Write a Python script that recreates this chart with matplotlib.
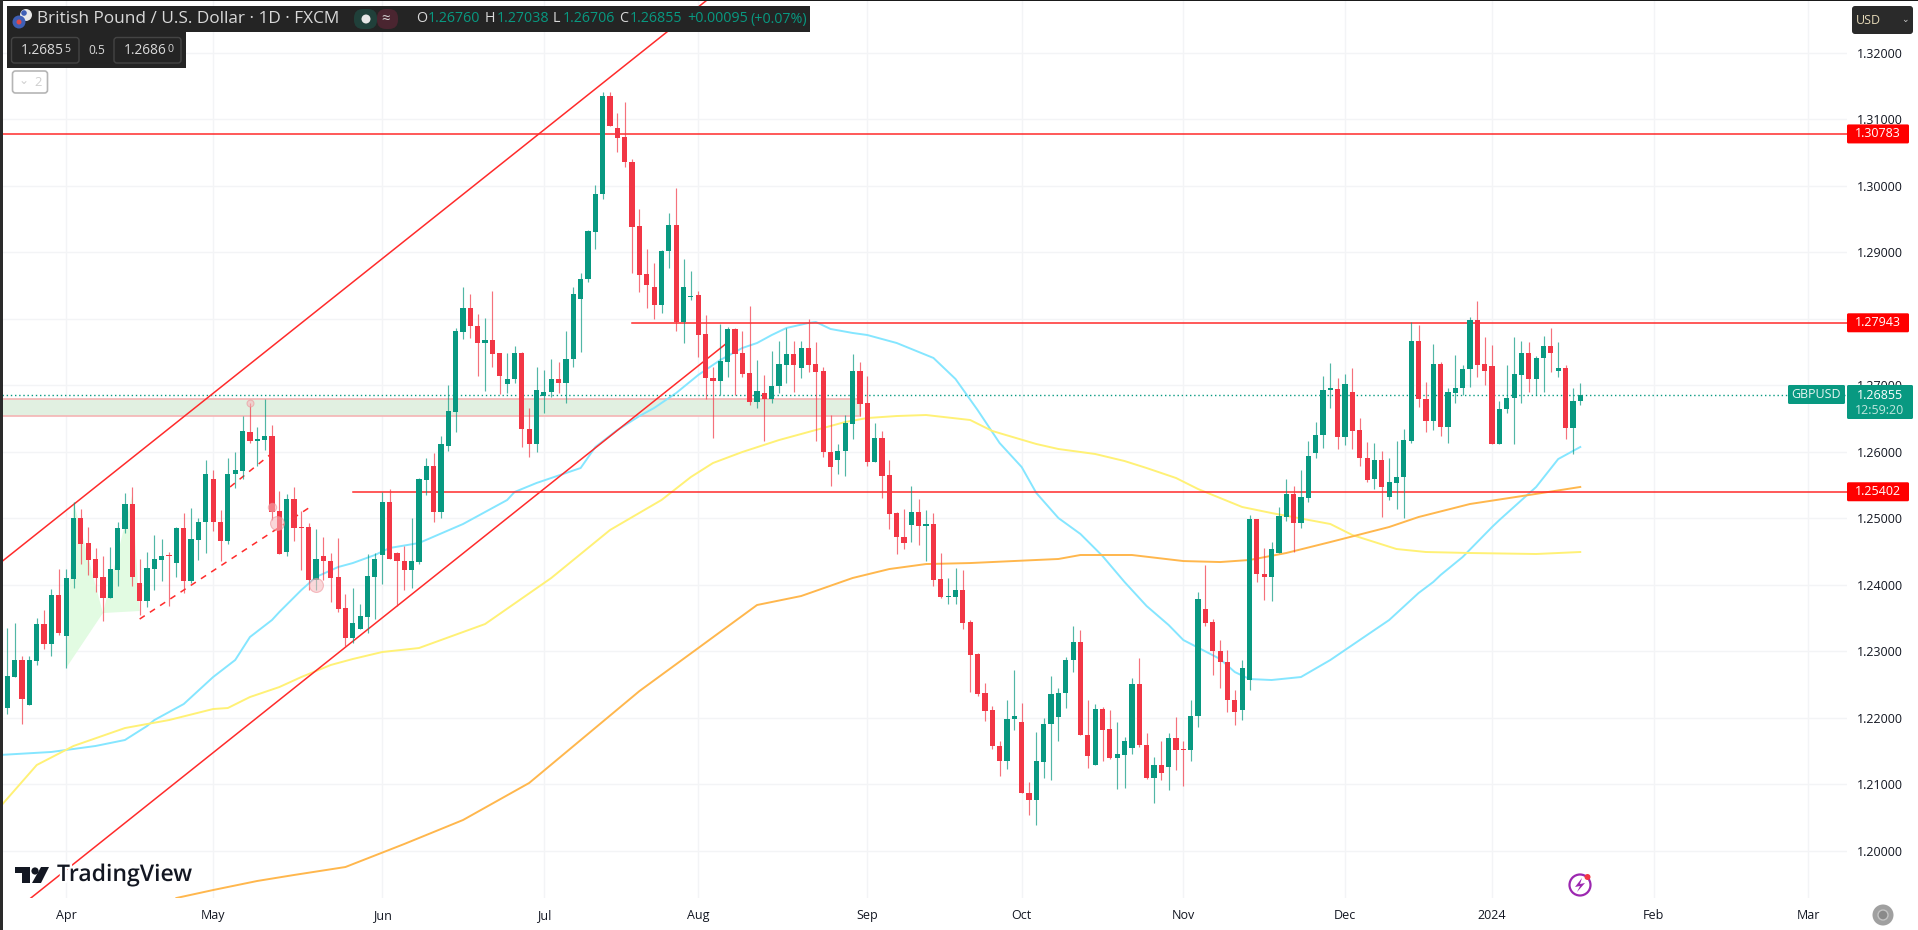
import matplotlib
matplotlib.use("Agg")
import matplotlib.pyplot as plt
import matplotlib.patheffects as pe
from matplotlib.patches import Rectangle, FancyBboxPatch, Circle, Polygon

# GBPUSD daily candles
opens = [
    1.22781, 1.22150, 1.22616, 1.22872, 1.22195, 1.22857, 1.23413, 1.23112, 1.23849, 1.23233,
    1.24090, 1.25007, 1.24631, 1.24391, 1.24120, 1.23804, 1.24225, 1.24842, 1.25218, 1.24030,
    1.23759, 1.24240, 1.24376, 1.24450, 1.24330, 1.24857, 1.24060, 1.24676, 1.24947, 1.25594,
    1.24947, 1.24661, 1.25668, 1.25714, 1.26301, 1.26165, 1.26180, 1.26240, 1.25112, 1.24496,
    1.25293, 1.24872, 1.24872, 1.24075, 1.24436, 1.24360, 1.24120, 1.23654, 1.23203, 1.23338,
    1.23518, 1.24120, 1.24451, 1.25248, 1.24481, 1.24360, 1.24225, 1.24345, 1.25579, 1.25789,
    1.25097, 1.26090, 1.26602, 1.27805, 1.28165, 1.27895, 1.27639, 1.27684, 1.27489, 1.27022,
    1.27098, 1.27489, 1.26346, 1.26120, 1.26842, 1.26902, 1.27098, 1.27038, 1.27399, 1.28301,
    1.28601, 1.29308, 1.29880, 1.31353, 1.30872, 1.30737, 1.30361, 1.29398, 1.28677, 1.28481,
    1.28210, 1.29022, 1.29413, 1.27955, 1.28331, 1.28361, 1.27774, 1.27113, 1.27068, 1.27353,
    1.27850, 1.27489, 1.27188, 1.26752, 1.26887, 1.26797, 1.26992, 1.27308, 1.27473, 1.27263,
    1.27564, 1.27323, 1.27218, 1.26000, 1.25879, 1.26015, 1.26421, 1.27218, 1.26737, 1.25849,
    1.26210, 1.25654, 1.25083, 1.24721, 1.24902, 1.25097, 1.24887, 1.24917, 1.24090, 1.23819,
    1.23819, 1.23924, 1.23443, 1.22962, 1.22375, 1.22120, 1.21579, 1.21353, 1.21984, 1.21939,
    1.20872, 1.20767, 1.21338, 1.21909, 1.22014, 1.22375, 1.22872, 1.23142, 1.21744, 1.21293,
    1.22135, 1.21835, 1.21398, 1.21444, 1.21549, 1.22511, 1.21594, 1.21098, 1.21293, 1.21263,
    1.21699, 1.21534, 1.21519, 1.22029, 1.23639, 1.23443, 1.23007, 1.22842, 1.22270, 1.22120,
    1.22571, 1.24992, 1.24165, 1.24120, 1.24481, 1.25022, 1.25368, 1.24932, 1.25308, 1.25985,
    1.26255, 1.26932, 1.26947, 1.26225, 1.26902, 1.26331, 1.25909, 1.25594, 1.25879, 1.25323,
    1.25534, 1.25623, 1.26165, 1.27669, 1.26797, 1.26466, 1.27323, 1.26376, 1.26887, 1.26962,
    1.27248, 1.27985, 1.27323, 1.27293, 1.26120, 1.26647, 1.26812, 1.27158, 1.27489, 1.27098,
    1.27414, 1.27594, 1.27218, 1.27263, 1.26361, 1.26760,
]
highs = [
    1.23022, 1.23353, 1.23428, 1.22932, 1.22932, 1.23503, 1.23624, 1.23939, 1.24240, 1.24240,
    1.25248, 1.25143, 1.24872, 1.24556, 1.24436, 1.24571, 1.24947, 1.25383, 1.25474, 1.24391,
    1.24496, 1.24751, 1.24691, 1.24496, 1.24872, 1.25083, 1.25158, 1.25007, 1.25878, 1.25729,
    1.25128, 1.25909, 1.26000, 1.26541, 1.26737, 1.26376, 1.26797, 1.26406, 1.25413, 1.25368,
    1.25474, 1.25112, 1.24932, 1.24842, 1.24721, 1.24481, 1.24706, 1.23864, 1.23954, 1.23714,
    1.24466, 1.24481, 1.25398, 1.25443, 1.24496, 1.24586, 1.25007, 1.25609, 1.25909, 1.25985,
    1.26240, 1.27008, 1.27865, 1.28481, 1.28376, 1.28075, 1.28015, 1.28421, 1.27489, 1.27489,
    1.27594, 1.27504, 1.26662, 1.27278, 1.27233, 1.27399, 1.27353, 1.27820, 1.28481, 1.28692,
    1.29338, 1.30015, 1.31413, 1.31413, 1.31097, 1.31263, 1.30406, 1.29654, 1.29052, 1.28842,
    1.29037, 1.29594, 1.29970, 1.28902, 1.28722, 1.28421, 1.28060, 1.27278, 1.27925, 1.27880,
    1.27865, 1.27820, 1.28195, 1.27384, 1.27158, 1.27519, 1.27669, 1.27865, 1.27669, 1.27669,
    1.28000, 1.27654, 1.27278, 1.26556, 1.26120, 1.26556, 1.27473, 1.27353, 1.27143, 1.26436,
    1.26316, 1.25879, 1.25097, 1.25143, 1.25489, 1.25293, 1.25128, 1.25083, 1.24481, 1.24105,
    1.24255, 1.24225, 1.23473, 1.22977, 1.22526, 1.22180, 1.21654, 1.22270, 1.22721, 1.22225,
    1.21038, 1.21790, 1.21999, 1.22631, 1.22450, 1.22917, 1.23383, 1.23323, 1.22270, 1.22210,
    1.22165, 1.22120, 1.21939, 1.21714, 1.22601, 1.22902, 1.21775, 1.21414, 1.21654, 1.21775,
    1.22014, 1.21654, 1.22270, 1.23894, 1.24300, 1.23488, 1.23173, 1.23022, 1.22420, 1.22872,
    1.25052, 1.24992, 1.24556, 1.24646, 1.25173, 1.25594, 1.25489, 1.25729, 1.26165, 1.26451,
    1.27143, 1.27338, 1.27113, 1.27173, 1.27263, 1.26511, 1.26150, 1.26135, 1.26015, 1.25909,
    1.26165, 1.26346, 1.27955, 1.27910, 1.27053, 1.27624, 1.27353, 1.26962, 1.27459, 1.27308,
    1.28030, 1.28271, 1.27729, 1.27609, 1.26767, 1.27308, 1.27729, 1.27669, 1.27654, 1.27444,
    1.27745, 1.27865, 1.27654, 1.27308, 1.26962, 1.27038,
]
lows = [
    1.21999, 1.22059, 1.22616, 1.21909, 1.22195, 1.22797, 1.23037, 1.22932, 1.23248, 1.22752,
    1.23954, 1.24315, 1.24150, 1.23894, 1.23458, 1.23804, 1.23985, 1.24782, 1.23985, 1.23548,
    1.23669, 1.23924, 1.24060, 1.23684, 1.24120, 1.23879, 1.24030, 1.24376, 1.24481, 1.24812,
    1.24360, 1.24616, 1.25458, 1.25594, 1.26135, 1.25789, 1.26030, 1.24977, 1.24466, 1.24436,
    1.24661, 1.24225, 1.23924, 1.23924, 1.24075, 1.23744, 1.23593, 1.23082, 1.23127, 1.23338,
    1.23278, 1.23488, 1.24015, 1.24391, 1.23684, 1.23924, 1.23954, 1.24315, 1.25353, 1.24947,
    1.25007, 1.26015, 1.26301, 1.27699, 1.27714, 1.27143, 1.26917, 1.27278, 1.26872, 1.26887,
    1.27038, 1.26075, 1.25925, 1.26000, 1.26586, 1.26827, 1.26887, 1.26737, 1.27278, 1.27504,
    1.28556, 1.29052, 1.29804, 1.30902, 1.30511, 1.30286, 1.28692, 1.28406, 1.28165, 1.28000,
    1.28090, 1.28767, 1.27820, 1.27639, 1.28286, 1.27429, 1.26797, 1.26210, 1.26857, 1.27128,
    1.26857, 1.27128, 1.26707, 1.26662, 1.26165, 1.26737, 1.26887, 1.27038, 1.26902, 1.27113,
    1.27203, 1.26165, 1.25925, 1.25489, 1.25669, 1.25638, 1.26195, 1.26541, 1.25789, 1.25849,
    1.25308, 1.24842, 1.24466, 1.24541, 1.24646, 1.24601, 1.24360, 1.23985, 1.23804, 1.23714,
    1.23714, 1.23338, 1.22390, 1.22330, 1.21954, 1.21534, 1.21128, 1.21233, 1.21820, 1.20872,
    1.20541, 1.20391, 1.21098, 1.21068, 1.21654, 1.22150, 1.22691, 1.21744, 1.21248, 1.21293,
    1.21353, 1.21383, 1.20933, 1.20948, 1.21459, 1.21564, 1.21083, 1.20722, 1.21068, 1.20918,
    1.21218, 1.20978, 1.21353, 1.21864, 1.23383, 1.22646, 1.22450, 1.22090, 1.21894, 1.21969,
    1.22420, 1.24045, 1.23774, 1.23759, 1.24481, 1.24962, 1.24496, 1.24857, 1.25248, 1.25909,
    1.26060, 1.26662, 1.26045, 1.26105, 1.26045, 1.25789, 1.25549, 1.25443, 1.25022, 1.25278,
    1.25143, 1.25007, 1.26135, 1.26677, 1.26301, 1.26331, 1.26240, 1.26135, 1.26737, 1.26857,
    1.26977, 1.27128, 1.27008, 1.26120, 1.26120, 1.26586, 1.26120, 1.26737, 1.26902, 1.26857,
    1.26902, 1.27203, 1.27128, 1.26195, 1.25970, 1.26706,
]
closes = [
    1.22150, 1.22631, 1.22872, 1.22285, 1.22872, 1.23413, 1.23112, 1.23849, 1.23278, 1.24105,
    1.25007, 1.24616, 1.24376, 1.24105, 1.23804, 1.24240, 1.24857, 1.25218, 1.24120, 1.23759,
    1.24255, 1.24391, 1.24436, 1.24436, 1.24857, 1.24060, 1.24691, 1.24947, 1.25668, 1.24947,
    1.24661, 1.25668, 1.25729, 1.26316, 1.26165, 1.26195, 1.26240, 1.25097, 1.24466, 1.25293,
    1.24857, 1.24857, 1.24075, 1.24391, 1.24360, 1.24105, 1.23639, 1.23203, 1.23428, 1.23533,
    1.24135, 1.24391, 1.25248, 1.24391, 1.24360, 1.24225, 1.24360, 1.25594, 1.25789, 1.25097,
    1.26120, 1.26617, 1.27820, 1.28165, 1.27895, 1.27639, 1.27684, 1.27473, 1.27143, 1.27098,
    1.27489, 1.26346, 1.26120, 1.26932, 1.26902, 1.27098, 1.27038, 1.27399, 1.28376, 1.28601,
    1.29323, 1.29880, 1.31353, 1.30902, 1.30722, 1.30361, 1.29383, 1.28662, 1.28511, 1.28210,
    1.29022, 1.29413, 1.27955, 1.28481, 1.28346, 1.27759, 1.27113, 1.27068, 1.27368, 1.27850,
    1.27473, 1.27173, 1.26752, 1.26917, 1.26797, 1.26992, 1.27323, 1.27473, 1.27308, 1.27564,
    1.27308, 1.27203, 1.26000, 1.25774, 1.26015, 1.26436, 1.27218, 1.26722, 1.25849, 1.26210,
    1.25638, 1.25067, 1.24721, 1.24631, 1.25097, 1.24887, 1.24917, 1.24075, 1.23819, 1.23834,
    1.23924, 1.23428, 1.22947, 1.22360, 1.22105, 1.21579, 1.21353, 1.21984, 1.22029, 1.20872,
    1.20767, 1.21353, 1.21909, 1.22360, 1.22375, 1.22872, 1.23142, 1.21744, 1.21429, 1.22135,
    1.21820, 1.21398, 1.21459, 1.21654, 1.22511, 1.21594, 1.21098, 1.21293, 1.21173, 1.21699,
    1.21519, 1.21519, 1.22029, 1.23789, 1.23428, 1.23007, 1.22842, 1.22270, 1.22090, 1.22752,
    1.24992, 1.24165, 1.24120, 1.24541, 1.25037, 1.25368, 1.24932, 1.25323, 1.25939, 1.26255,
    1.26932, 1.26962, 1.26225, 1.27022, 1.26316, 1.25909, 1.25579, 1.25879, 1.25474, 1.25549,
    1.25623, 1.26180, 1.27669, 1.26797, 1.26466, 1.27323, 1.26376, 1.26902, 1.26962, 1.27248,
    1.27985, 1.27308, 1.27218, 1.26120, 1.26647, 1.26812, 1.27173, 1.27489, 1.27098, 1.27414,
    1.27594, 1.27489, 1.27263, 1.26361, 1.26767, 1.26855,
]

# moving averages as (bar index, price)
ma50_idx = [0, 7, 13, 17, 20, 21, 25, 29, 32, 34, 37, 38, 41, 43, 46, 48, 51, 53, 57, 63, 69, 70, 73, 77, 79, 81, 84, 87, 89, 92,
            95, 98, 101, 103, 105, 107, 110, 111, 113, 116, 118, 122, 124, 127, 130, 133, 136, 139, 141, 144, 147, 150, 153, 156, 159,
            161, 166, 168, 170, 173, 177, 181, 186, 189, 193, 195, 196, 199, 203, 204, 209, 212, 215]
ma50_val = [1.21444, 1.21489, 1.21579, 1.21669, 1.21879, 1.21969, 1.22210, 1.22616, 1.22872, 1.23217, 1.23473, 1.23593, 1.23924,
            1.24120, 1.24270, 1.24330, 1.24451, 1.24556, 1.24631, 1.24917, 1.25278, 1.25398, 1.25534, 1.25684, 1.25759, 1.26075,
            1.26331, 1.26541, 1.26662, 1.26887, 1.27158, 1.27384, 1.27564, 1.27639, 1.27759, 1.27865, 1.27940, 1.27955, 1.27850,
            1.27790, 1.27759, 1.27639, 1.27549, 1.27414, 1.27098, 1.26632, 1.26135, 1.25774, 1.25383, 1.25007, 1.24767, 1.24436,
            1.24045, 1.23684, 1.23398, 1.23172, 1.22887, 1.22691, 1.22586, 1.22571, 1.22616, 1.22872, 1.23248, 1.23473, 1.23879,
            1.24045, 1.24150, 1.24421, 1.24872, 1.24977, 1.25474, 1.25894, 1.26075]
ma100_idx = [0, 5, 10, 17, 23, 29, 31, 34, 38, 41, 45, 48, 52, 57, 66, 75, 83, 90, 94, 97, 101, 106, 112, 115, 118, 122, 126, 132,
             135, 141, 144, 149, 153, 156, 160, 163, 169, 173, 181, 184, 190, 194, 200, 209, 215]
ma100_val = [1.20662, 1.21293, 1.21579, 1.21849, 1.21969, 1.22135, 1.22150, 1.22315, 1.22465, 1.22616, 1.22797, 1.22887, 1.22992,
             1.23052, 1.23413, 1.24105, 1.24827, 1.25278, 1.25624, 1.25834, 1.26000, 1.26180, 1.26361, 1.26451, 1.26511, 1.26541,
             1.26556, 1.26481, 1.26316, 1.26120, 1.26045, 1.25970, 1.25864, 1.25759, 1.25609, 1.25443, 1.25173, 1.25082, 1.24917,
             1.24751, 1.24541, 1.24496, 1.24481, 1.24466, 1.24496]
ma200_idx = [24, 29, 35, 40, 47, 55, 63, 72, 80, 87, 95, 103, 109, 116, 121, 126, 132, 141, 144, 147, 154, 161, 166, 170, 175, 181,
             189, 193, 200, 208, 215]
ma200_val = [1.19293, 1.19413, 1.19549, 1.19639, 1.19759, 1.20105, 1.20466, 1.21023, 1.21760, 1.22405, 1.23052, 1.23699, 1.23834,
             1.24105, 1.24240, 1.24315, 1.24330, 1.24376, 1.24391, 1.24451, 1.24451, 1.24360, 1.24345, 1.24376, 1.24481, 1.24646,
             1.24872, 1.25022, 1.25218, 1.25353, 1.25474]

# drawings on the chart
level_prices = [1.30783, 1.27943, 1.25402]
level_labels = ["1.30783", "1.27943", "1.25402"]
level_start = [0, 86, 48]
channel_upper_idx = [0, 96.2]
channel_upper_val = [1.24330, 1.32797]
channel_lower_idx = [4.2, 98.9]
channel_lower_val = [1.19293, 1.27639]
dash_low_idx = [19, 42]
dash_low_val = [1.23488, 1.25158]
dash_high_idx = [31.3, 36.7]
dash_high_val = [1.25474, 1.25955]
zone_top = 1.26797
zone_bottom = 1.26541
zone_end = 117
pattern_idx = [9, 10, 14, 18, 19]
pattern_val = [1.22752, 1.25248, 1.23578, 1.25353, 1.23609]
marker_idx = [34, 37, 37.7, 43]
marker_val = [1.26737, 1.25173, 1.24932, 1.24000]
marker_size = [5, 6, 10, 10]

price_ticks = [1.20, 1.21, 1.22, 1.23, 1.24, 1.25, 1.26, 1.27, 1.28, 1.29, 1.30, 1.31, 1.32]
month_ticks = [9, 29, 52, 74, 95, 118, 139, 161, 183, 203, 225, 246]
month_labels = ["Apr", "May", "Jun", "Jul", "Aug", "Sep", "Oct", "Nov", "Dec", "2024", "Feb", "Mar"]
last_price = 1.26855

GREEN = "#089981"
RED = "#f23645"
LINE_RED = "#ff2b2b"
TEXT = "#131722"
BAR_PX = 7.35

plt.rcParams["font.family"] = ["Open Sans", "DejaVu Sans"]

fig = plt.figure(figsize=(19.18, 9.30), dpi=100)
ax = fig.add_axes([2 / 1918, 32 / 930, 1845 / 1918, 898 / 930])
ax.set_xlim(2 / BAR_PX, 1847 / BAR_PX)
ax.set_ylim(1.19293, 1.32797)

for side in ax.spines.values():
    side.set_visible(False)
ax.grid(True, color="#f3f4f6", linewidth=1)
ax.set_axisbelow(True)
ax.yaxis.tick_right()
ax.set_yticks(price_ticks, [f"{p:.5f}" for p in price_ticks])
ax.set_xticks(month_ticks, month_labels)
ax.tick_params(axis="y", length=0, pad=7, labelsize=9, labelcolor=TEXT)
ax.tick_params(axis="x", length=0, pad=8, labelsize=9, labelcolor=TEXT)

# zone and harmonic pattern sit under everything else
ax.add_patch(Rectangle((0, zone_bottom), zone_end, zone_top - zone_bottom, facecolor="#e1f0e1",
                       edgecolor="#f5b4b4", linewidth=1.2, zorder=1))
ax.add_patch(Polygon(list(zip(pattern_idx[:3], pattern_val[:3])), facecolor="#e2fbe2", edgecolor="none", zorder=1))
ax.add_patch(Polygon(list(zip(pattern_idx[2:], pattern_val[2:])), facecolor="#e2fbe2", edgecolor="none", zorder=1))

ax.plot(ma50_idx, ma50_val, color="#85e6ff", linewidth=1.4, zorder=2)
ax.plot(ma100_idx, ma100_val, color="#fff176", linewidth=1.4, zorder=2)
ax.plot(ma200_idx, ma200_val, color="#ffb74d", linewidth=1.4, zorder=2)

ax.axhline(last_price, color=GREEN, linewidth=1, linestyle=(0, (1, 2)), zorder=3)

for price, start in zip(level_prices, level_start):
    ax.plot([start, 260], [price, price], color=LINE_RED, linewidth=1.1, zorder=3)
ax.plot(channel_upper_idx, channel_upper_val, color=LINE_RED, linewidth=1.1, zorder=3)
ax.plot(channel_lower_idx, channel_lower_val, color=LINE_RED, linewidth=1.1, zorder=3)
ax.plot(dash_low_idx, dash_low_val, color=LINE_RED, linewidth=1.1, linestyle=(0, (4, 4)), zorder=3)
ax.plot(dash_high_idx, dash_high_val, color=LINE_RED, linewidth=1.1, linestyle=(0, (4, 4)), zorder=3)

# candles
idx = list(range(len(opens)))
colors = [GREEN if c >= o else RED for o, c in zip(opens, closes)]
ax.vlines(idx, lows, highs, colors=colors, linewidth=0.85, alpha=0.7, zorder=4)
bodies = [max(abs(c - o), 0.00012) for o, c in zip(opens, closes)]
ax.bar(idx, bodies, bottom=[min(o, c) for o, c in zip(opens, closes)], width=5.2 / BAR_PX,
       color=colors, edgecolor="none", zorder=5)

for x, y, s in zip(marker_idx, marker_val, marker_size):
    ax.plot([x], [y], marker="o", markersize=s, markerfacecolor="#f7b9bd", markeredgecolor="#ee8f96",
            markeredgewidth=0.8, alpha=0.55, linestyle="none", zorder=6)

# overlay in screen pixels for the TradingView chrome
ui = fig.add_axes([0, 0, 1, 1], facecolor="none")
ui.set_xlim(0, 1918)
ui.set_ylim(930, 0)
ui.axis("off")


def box(x0, y0, x1, y1, color, edge="none", lw=0, radius=0):
    if radius:
        ui.add_patch(FancyBboxPatch((x0, y0), x1 - x0, y1 - y0, boxstyle=f"round,pad=0,rounding_size={radius}",
                                    facecolor=color, edgecolor=edge, linewidth=lw, zorder=10))
    else:
        ui.add_patch(Rectangle((x0, y0), x1 - x0, y1 - y0, facecolor=color, edgecolor=edge, linewidth=lw, zorder=10))


def label(x, y, s, color="#d9d9d9", px=12.5, ha="left", weight="normal"):
    return ui.text(x, y, s, color=color, fontsize=px * 0.72, ha=ha, va="center", weight=weight, zorder=12)


# screen frame
box(0, 0, 1918, 1.5, "#1a1a1a")
box(0, 0, 2.5, 930, "#2a2a2a")

# header
HEAD = "#242424"
box(7, 6, 810, 32, HEAD)
box(7, 32, 186, 68, HEAD)
ui.add_patch(Circle((19, 22), 6.5, facecolor="#3f5fb5", zorder=12))
ui.add_patch(Circle((19, 22), 2.5, facecolor="#e04848", zorder=12))
ui.add_patch(Circle((26, 15), 6, facecolor="#e8e8e8", zorder=11))
ui.add_patch(Circle((24, 13), 2.8, facecolor="#3f5fb5", zorder=12))
label(37, 19, "British Pound / U.S. Dollar · 1D · FXCM", px=17.2)
box(354, 9, 377, 29, "#20403a", radius=9)
box(377, 9, 398, 29, "#4a2530", radius=9)
ui.add_patch(Circle((366, 19), 4.5, facecolor="#e6e6e6", zorder=12))
label(386, 19, "≈", px=15, ha="center")
label(416, 19, "O", px=14.2)
label(428, 19, "1.26760", GREEN, 14.2)
label(485, 19, "H", px=14.2)
label(497, 19, "1.27038", GREEN, 14.2)
label(553, 19, "L", px=14.2)
label(563, 19, "1.26706", GREEN, 14.2)
label(619, 19, "C", px=14.2)
label(630, 19, "1.26855", GREEN, 14.2)
label(687, 19, "+0.00095", GREEN, 14.2)
label(750, 19, "(+0.07%)", GREEN, 14.2)

box(11.5, 37.5, 79, 63, HEAD, edge="#444444", lw=1, radius=3)
box(114, 37.5, 181, 63, HEAD, edge="#444444", lw=1, radius=3)
label(21, 51, "1.2685", px=13.7)
label(64, 49, "5", px=10.5)
label(88, 50, "0.5", px=12)
label(124, 51, "1.2686", px=13.7)
label(167, 49, "0", px=10.5)
box(12.5, 71, 47.5, 93, "white", edge="#b5b5b5", lw=1.2, radius=3)
label(24, 80, "⌄", "#cfcfcf", 12, ha="center")
label(38, 82, "2", "#cfcfcf", 13, ha="center")

# right scale labels
box(1852, 6, 1913, 34, "#2a2a2a", radius=3)
label(1856, 20, "USD", "#e5d9b8", 12.5)
label(1905, 20, "⌄", "#cccccc", 9, ha="center")
for price, text in zip(level_prices, level_labels):
    y = 53 + (1.32 - price) * 6650
    box(1847, y - 9.5, 1909, y + 9.5, "#ff0000", radius=1.5)
    label(1878, y, text, "white", 12.5, ha="center")
box(1788, 385, 1845, 404, GREEN, radius=1.5)
label(1816.5, 394.5, "GBPUSD", "#e6f5f2", 12.5, ha="center")
box(1847, 385, 1913, 419, GREEN, radius=1.5)
label(1880, 395, "1.26855", "white", 12.5, ha="center")
label(1880, 410, "12:59:20", "#bfe6de", 12.5, ha="center")

# logo
for shape in ([(15, 867), (30, 867), (30, 883), (22, 883), (22, 873), (15, 873)],
              [(41, 867), (49, 867), (41, 883), (32, 883)]):
    ui.add_patch(Polygon(shape, facecolor=TEXT, edgecolor="none", zorder=12))
ui.add_patch(Circle((35, 871), 3.6, facecolor=TEXT, zorder=12))
logo = label(57, 875, "TradingView", TEXT, 23, weight="semibold")
logo.set_path_effects([pe.withStroke(linewidth=3.5, foreground="white")])

# bottom right icons
ui.add_patch(Circle((1580, 885), 10.5, facecolor="none", edgecolor="#9c27b0", linewidth=1.6, zorder=12))
ui.add_patch(Polygon([(1582, 878), (1575, 887), (1580, 886), (1577, 892), (1585, 883), (1580, 884)],
                     facecolor="#9c27b0", zorder=12))
ui.add_patch(Circle((1587.5, 877), 3, facecolor="#f23645", zorder=13))
ui.add_patch(Circle((1883, 915), 10.5, facecolor="#a0a0a0", zorder=12))
ui.add_patch(Circle((1883, 915), 5, facecolor="#8a8a8a", edgecolor="#c4c4c4", linewidth=1, zorder=13))

fig.savefig("out.png", dpi=100, facecolor="white")
